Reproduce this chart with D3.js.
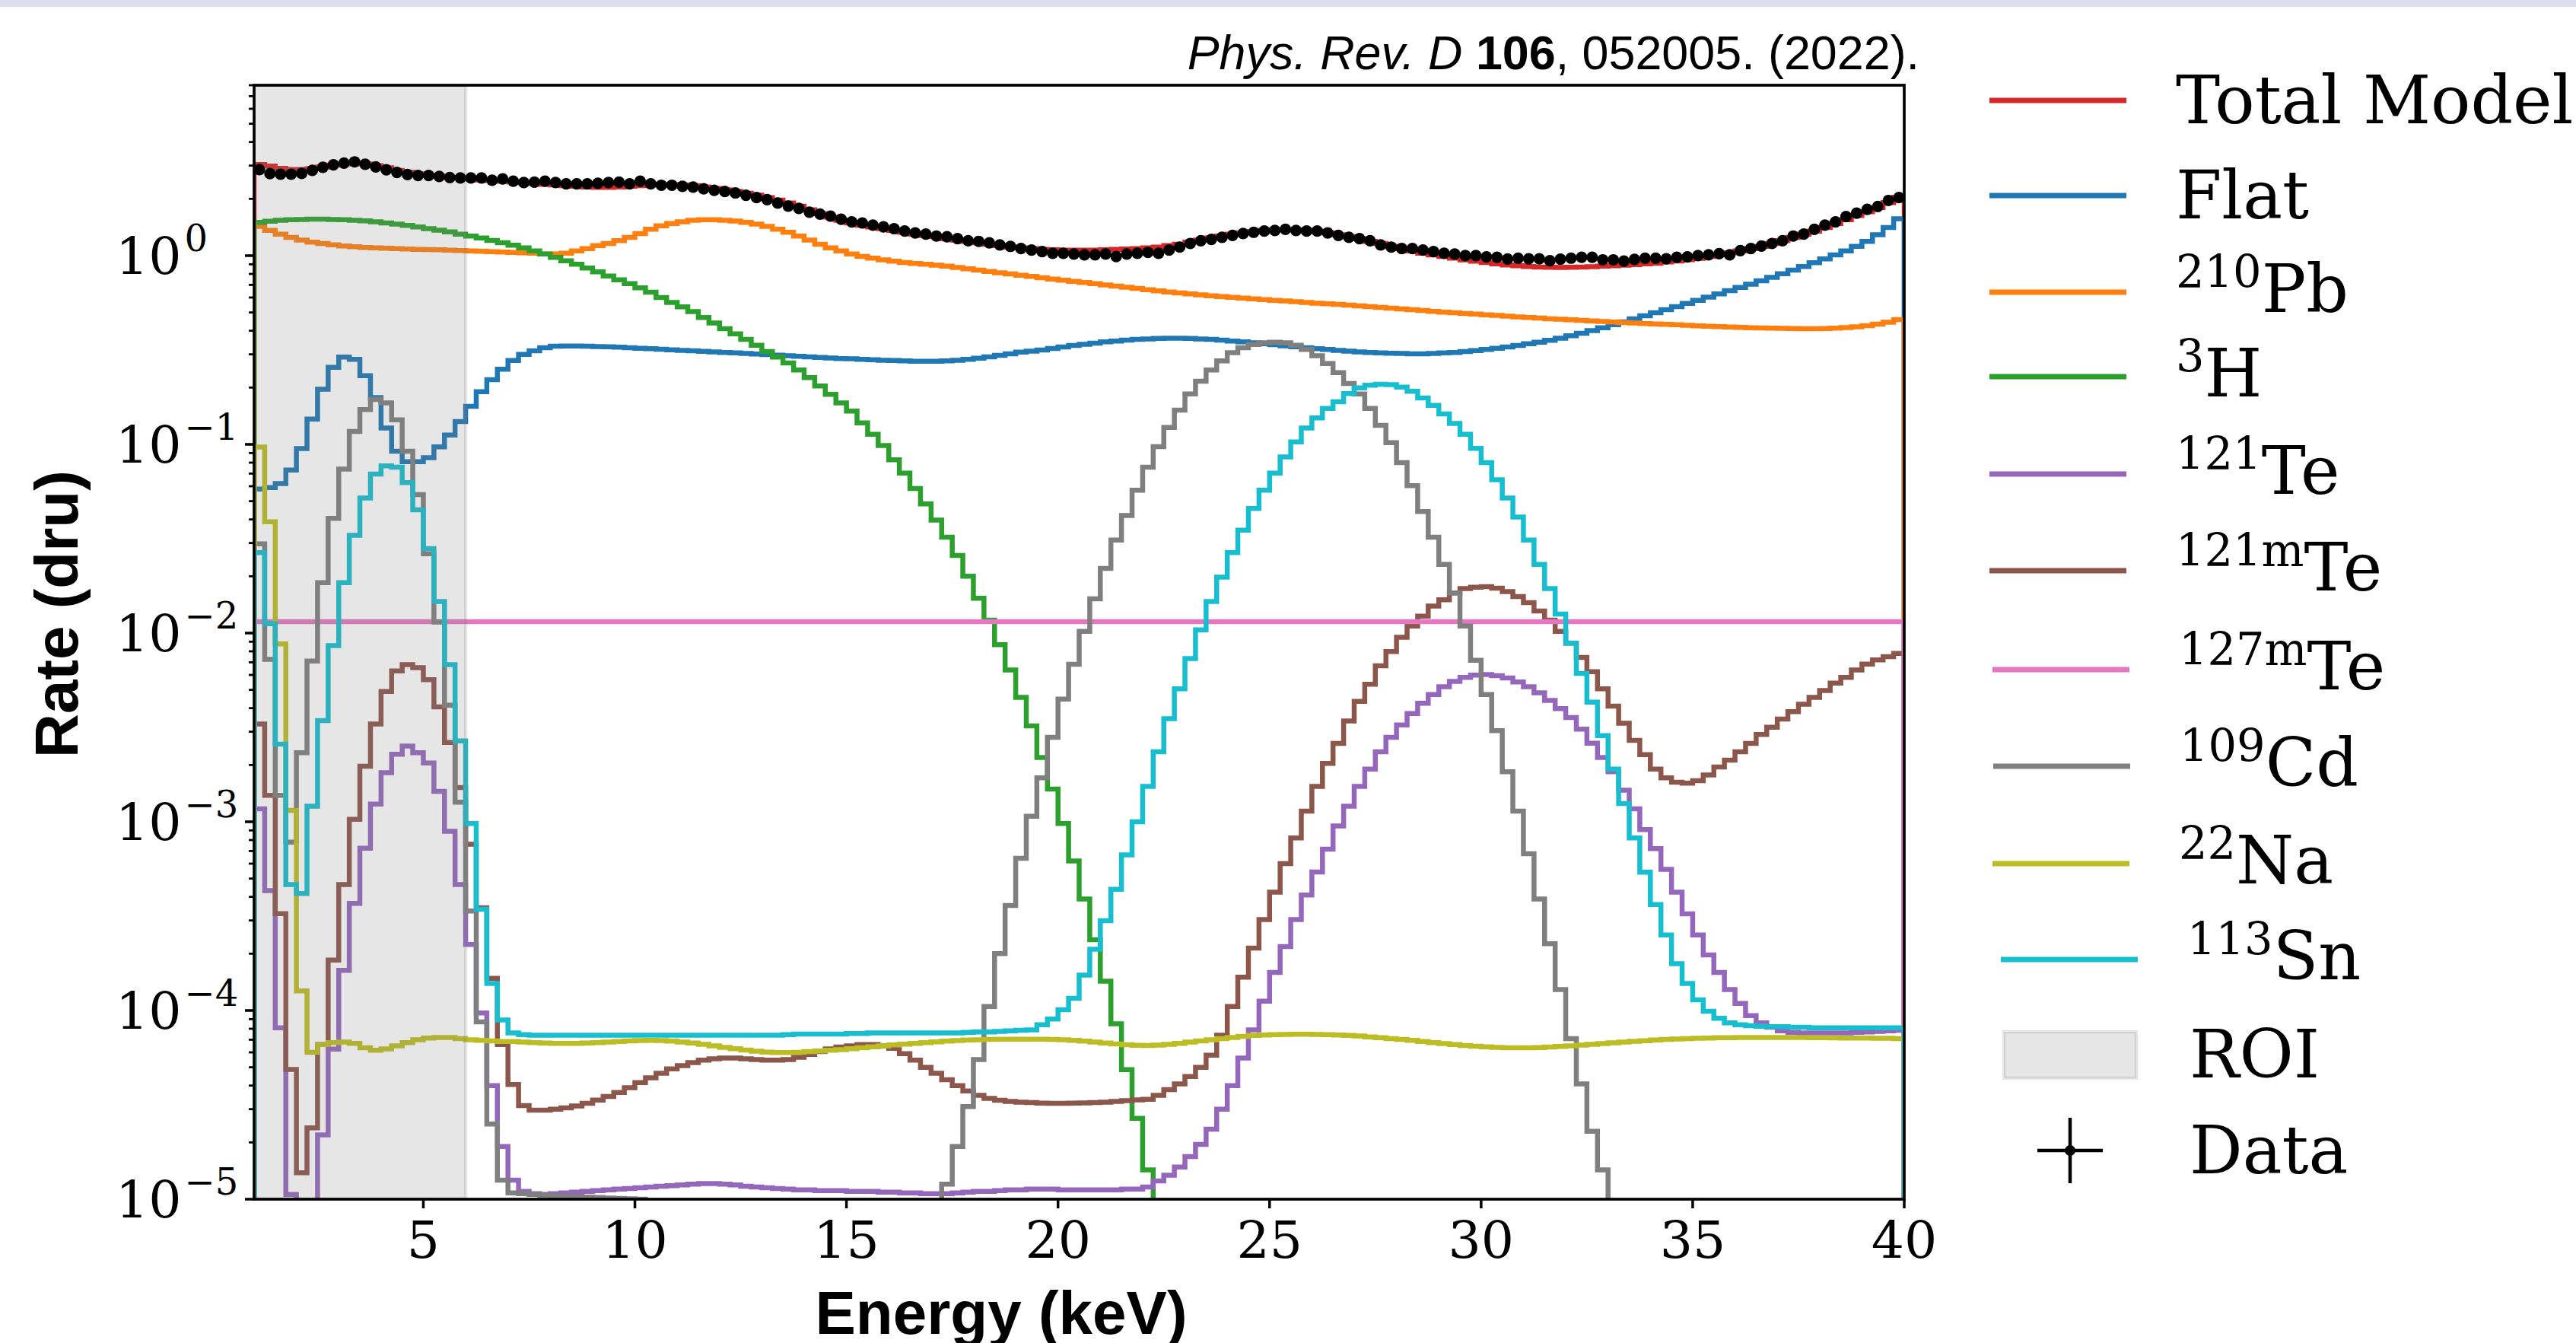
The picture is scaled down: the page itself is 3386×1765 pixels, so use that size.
<!DOCTYPE html>
<html>
<head>
<meta charset="utf-8">
<script src="https://cdn.jsdelivr.net/npm/d3@7"></script>
<style>
  body { margin: 0; background: #fff; }
  svg { display: block; }
  text { white-space: pre; }
</style>
</head>
<body>
<svg id="chart" width="3386" height="1765"></svg>
<script>
// histogram bins: 0.25 keV wide, 1 to 40 keV (156 bins)
const binStart = 1.0;
const binWidth = 0.25;

// rates in dru, one value per bin (0 = below the plotted range)
const totalModel = [
  3.04, 2.98, 2.90, 2.86, 2.86, 2.89, 2.95, 3.02, 3.06, 3.09,
  3.06, 3.00, 2.92, 2.83, 2.76, 2.71, 2.67, 2.64, 2.60, 2.57,
  2.55, 2.52, 2.50, 2.48, 2.46, 2.44, 2.41, 2.39, 2.37, 2.35,
  2.33, 2.31, 2.30, 2.30, 2.31, 2.33, 2.35, 2.37, 2.38, 2.38,
  2.37, 2.35, 2.31, 2.27, 2.23, 2.19, 2.14, 2.09, 2.03, 1.97,
  1.90, 1.83, 1.75, 1.67, 1.60, 1.54, 1.49, 1.45, 1.42, 1.39,
  1.36, 1.33, 1.30, 1.28, 1.26, 1.23, 1.21, 1.19, 1.17, 1.15,
  1.13, 1.11, 1.10, 1.09, 1.08, 1.075, 1.07, 1.07, 1.07, 1.07,
  1.075, 1.08, 1.085, 1.09, 1.10, 1.11, 1.13, 1.15, 1.18, 1.21,
  1.24, 1.27, 1.30, 1.32, 1.34, 1.36, 1.37, 1.375, 1.37, 1.36,
  1.35, 1.32, 1.29, 1.26, 1.23, 1.19, 1.16, 1.12, 1.09, 1.06,
  1.03, 1.01, 0.99, 0.97, 0.95, 0.935, 0.92, 0.905, 0.893, 0.883,
  0.875, 0.87, 0.867, 0.866, 0.867, 0.87, 0.874, 0.879, 0.885, 0.89,
  0.897, 0.904, 0.912, 0.925, 0.937, 0.952, 0.968, 0.99, 1.01, 1.035,
  1.06, 1.09, 1.12, 1.16, 1.20, 1.25, 1.30, 1.35, 1.41, 1.48,
  1.55, 1.63, 1.71, 1.80, 1.91, 2.04
];

const flat = [
  0.058, 0.059, 0.062, 0.073, 0.095, 0.136, 0.196, 0.256, 0.290, 0.282,
  0.231, 0.177, 0.122, 0.092, 0.081, 0.081, 0.085, 0.097, 0.112, 0.132,
  0.159, 0.190, 0.220, 0.250, 0.278, 0.300, 0.313, 0.325, 0.331, 0.332,
  0.332, 0.331, 0.330, 0.329, 0.327, 0.325, 0.323, 0.321, 0.319, 0.317,
  0.315, 0.313, 0.311, 0.309, 0.307, 0.305, 0.303, 0.301, 0.299, 0.297,
  0.295, 0.293, 0.291, 0.289, 0.287, 0.285, 0.284, 0.282, 0.281, 0.279,
  0.278, 0.277, 0.276, 0.276, 0.276, 0.277, 0.279, 0.282, 0.286, 0.291,
  0.296, 0.302, 0.308, 0.312, 0.316, 0.322, 0.328, 0.334, 0.339, 0.344,
  0.349, 0.353, 0.357, 0.360, 0.362, 0.364, 0.365, 0.365, 0.364, 0.362,
  0.360, 0.357, 0.353, 0.349, 0.345, 0.341, 0.337, 0.333, 0.329, 0.325,
  0.321, 0.318, 0.315, 0.312, 0.309, 0.307, 0.305, 0.304, 0.303, 0.302,
  0.302, 0.303, 0.305, 0.307, 0.310, 0.314, 0.318, 0.323, 0.328, 0.334,
  0.341, 0.348, 0.356, 0.365, 0.376, 0.388, 0.401, 0.415, 0.430, 0.446,
  0.463, 0.480, 0.498, 0.517, 0.537, 0.558, 0.580, 0.603, 0.627, 0.652,
  0.678, 0.706, 0.736, 0.768, 0.802, 0.838, 0.876, 0.917, 0.960, 1.01,
  1.06, 1.12, 1.19, 1.29, 1.41, 1.57
];

const pb210 = [
  1.43, 1.36, 1.30, 1.25, 1.21, 1.18, 1.16, 1.14, 1.125, 1.115,
  1.105, 1.10, 1.095, 1.09, 1.085, 1.08, 1.078, 1.075, 1.07, 1.065,
  1.06, 1.055, 1.05, 1.045, 1.04, 1.035, 1.03, 1.02, 1.02, 1.03,
  1.06, 1.09, 1.13, 1.16, 1.20, 1.25, 1.31, 1.38, 1.44, 1.48,
  1.51, 1.54, 1.55, 1.55, 1.54, 1.525, 1.50, 1.47, 1.43, 1.38,
  1.33, 1.27, 1.21, 1.15, 1.10, 1.06, 1.02, 0.99, 0.97, 0.95,
  0.935, 0.92, 0.91, 0.90, 0.89, 0.88, 0.866, 0.852, 0.838, 0.825,
  0.812, 0.80, 0.788, 0.776, 0.764, 0.752, 0.741, 0.731, 0.721, 0.711,
  0.70, 0.69, 0.68, 0.67, 0.66, 0.651, 0.642, 0.634, 0.627, 0.62,
  0.613, 0.607, 0.601, 0.596, 0.59, 0.585, 0.58, 0.575, 0.57, 0.565,
  0.56, 0.556, 0.552, 0.547, 0.542, 0.537, 0.532, 0.527, 0.522, 0.517,
  0.512, 0.507, 0.502, 0.498, 0.494, 0.49, 0.486, 0.482, 0.478, 0.474,
  0.47, 0.467, 0.463, 0.46, 0.457, 0.454, 0.451, 0.448, 0.445, 0.442,
  0.44, 0.437, 0.435, 0.432, 0.43, 0.428, 0.425, 0.423, 0.421, 0.419,
  0.417, 0.415, 0.414, 0.413, 0.412, 0.411, 0.41, 0.41, 0.411, 0.413,
  0.416, 0.42, 0.426, 0.434, 0.444, 0.458
];

const h3 = [
  1.50, 1.52, 1.54, 1.55, 1.555, 1.56, 1.56, 1.555, 1.55, 1.54,
  1.53, 1.51, 1.49, 1.47, 1.445, 1.42, 1.39, 1.365, 1.335, 1.30,
  1.27, 1.24, 1.205, 1.17, 1.135, 1.10, 1.06, 1.02, 0.98, 0.94,
  0.90, 0.86, 0.82, 0.78, 0.745, 0.71, 0.675, 0.64, 0.60, 0.565,
  0.535, 0.505, 0.47, 0.44, 0.41, 0.385, 0.36, 0.335, 0.31, 0.29,
  0.27, 0.248, 0.226, 0.204, 0.184, 0.166, 0.150, 0.130, 0.113, 0.0986,
  0.0828, 0.0705, 0.0583, 0.0483, 0.0397, 0.0322, 0.0258, 0.0200, 0.0153, 0.0117,
  0.00867, 0.00638, 0.00456, 0.00322, 0.00219, 0.00149, 0.00098, 0.00062, 0.00039, 0.000237,
  0.000143, 0.000085, 0.0000486, 0.0000268, 0.0000143, 0, 0, 0, 0, 0,
  0, 0, 0, 0, 0, 0, 0, 0, 0, 0,
  0, 0, 0, 0, 0, 0, 0, 0, 0, 0,
  0, 0, 0, 0, 0, 0, 0, 0, 0, 0,
  0, 0, 0, 0, 0, 0, 0, 0, 0, 0,
  0, 0, 0, 0, 0, 0, 0, 0, 0, 0,
  0, 0, 0, 0, 0, 0, 0, 0, 0, 0,
  0, 0, 0, 0, 0, 0
];

const te121 = [
  1.17e-3, 4.32e-4, 8.1e-5, 1.06e-5, 3e-6, 6e-6, 2.19e-5, 6.24e-5, 1.63e-4, 3.69e-4,
  7.24e-4, 1.24e-3, 1.82e-3, 2.28e-3, 2.52e-3, 2.32e-3, 2.05e-3, 1.45e-3, 8.9e-4, 4.65e-4,
  2.24e-4, 9.7e-5, 4.0e-5, 1.9e-5, 1.26e-5, 1.1e-5, 1.07e-5, 1.06e-5, 1.07e-5, 1.08e-5,
  1.09e-5, 1.1e-5, 1.11e-5, 1.12e-5, 1.13e-5, 1.14e-5, 1.15e-5, 1.16e-5, 1.17e-5, 1.18e-5,
  1.19e-5, 1.2e-5, 1.21e-5, 1.21e-5, 1.2e-5, 1.19e-5, 1.17e-5, 1.16e-5, 1.15e-5, 1.14e-5,
  1.13e-5, 1.12e-5, 1.12e-5, 1.11e-5, 1.11e-5, 1.11e-5, 1.1e-5, 1.1e-5, 1.1e-5, 1.09e-5,
  1.09e-5, 1.08e-5, 1.08e-5, 1.07e-5, 1.07e-5, 1.07e-5, 1.08e-5, 1.09e-5, 1.1e-5, 1.1e-5,
  1.11e-5, 1.12e-5, 1.12e-5, 1.13e-5, 1.13e-5, 1.13e-5, 1.12e-5, 1.12e-5, 1.12e-5, 1.12e-5,
  1.12e-5, 1.12e-5, 1.13e-5, 1.13e-5, 1.16e-5, 1.25e-5, 1.34e-5, 1.48e-5, 1.68e-5, 1.95e-5,
  2.35e-5, 3.0e-5, 4.0e-5, 5.6e-5, 7.9e-5, 1.12e-4, 1.59e-4, 2.18e-4, 3.03e-4, 4.09e-4,
  5.42e-4, 7.16e-4, 9.5e-4, 1.21e-3, 1.54e-3, 1.9e-3, 2.35e-3, 2.8e-3, 3.26e-3, 3.75e-3,
  4.25e-3, 4.72e-3, 5.2e-3, 5.55e-3, 5.82e-3, 5.98e-3, 6.03e-3, 5.95e-3, 5.78e-3, 5.5e-3,
  5.2e-3, 4.82e-3, 4.4e-3, 3.98e-3, 3.57e-3, 3.1e-3, 2.61e-3, 2.19e-3, 1.84e-3, 1.47e-3,
  1.17e-3, 9.1e-4, 7.2e-4, 5.6e-4, 4.24e-4, 3.25e-4, 2.51e-4, 1.97e-4, 1.59e-4, 1.29e-4,
  1.09e-4, 9.4e-5, 8.6e-5, 8.15e-5, 7.8e-5, 7.65e-5, 7.6e-5, 7.6e-5, 7.6e-5, 7.6e-5,
  7.6e-5, 7.65e-5, 7.7e-5, 7.75e-5, 7.8e-5, 7.85e-5
];

const te121m = [
  3.3e-3, 1.38e-3, 3.26e-4, 4.87e-5, 1.38e-5, 2.39e-5, 6.6e-5, 1.85e-4, 4.65e-4, 1.03e-3,
  1.97e-3, 3.3e-3, 4.9e-3, 6.3e-3, 6.8e-3, 6.55e-3, 5.66e-3, 4.06e-3, 2.63e-3, 1.52e-3,
  7.6e-4, 3.5e-4, 1.48e-4, 6.6e-5, 4.05e-5, 3.13e-5, 2.96e-5, 2.96e-5, 3.0e-5, 3.05e-5,
  3.12e-5, 3.22e-5, 3.35e-5, 3.5e-5, 3.68e-5, 3.9e-5, 4.15e-5, 4.4e-5, 4.65e-5, 4.9e-5,
  5.1e-5, 5.3e-5, 5.45e-5, 5.55e-5, 5.6e-5, 5.6e-5, 5.55e-5, 5.5e-5, 5.45e-5, 5.45e-5,
  5.5e-5, 5.65e-5, 5.85e-5, 6.05e-5, 6.25e-5, 6.4e-5, 6.5e-5, 6.6e-5, 6.6e-5, 6.5e-5,
  6.3e-5, 5.9e-5, 5.45e-5, 5.0e-5, 4.65e-5, 4.3e-5, 4.0e-5, 3.75e-5, 3.55e-5, 3.42e-5,
  3.34e-5, 3.3e-5, 3.27e-5, 3.25e-5, 3.23e-5, 3.22e-5, 3.22e-5, 3.23e-5, 3.24e-5, 3.25e-5,
  3.27e-5, 3.3e-5, 3.33e-5, 3.36e-5, 3.38e-5, 3.55e-5, 3.81e-5, 4.08e-5, 4.47e-5, 5.0e-5,
  5.8e-5, 7.4e-5, 1.05e-4, 1.5e-4, 2.14e-4, 3.03e-4, 4.24e-4, 6.0e-4, 8.2e-4, 1.14e-3,
  1.54e-3, 2.04e-3, 2.6e-3, 3.42e-3, 4.35e-3, 5.35e-3, 6.7e-3, 7.98e-3, 9.5e-3, 0.0109,
  0.0123, 0.0139, 0.0150, 0.0163, 0.0172, 0.0175, 0.0176, 0.0173, 0.0166, 0.0156,
  0.0145, 0.0131, 0.0117, 0.0102, 0.00885, 0.00743, 0.00624, 0.00507, 0.0041, 0.00333,
  0.0027, 0.00227, 0.0019, 0.00171, 0.00162, 0.0016, 0.00165, 0.00177, 0.00195, 0.00212,
  0.00235, 0.0026, 0.0029, 0.00317, 0.0035, 0.00383, 0.0042, 0.00456, 0.00496, 0.00543,
  0.00582, 0.00638, 0.00685, 0.0072, 0.0075, 0.0078
];

// flat line, one level across the whole range
const te127m = 0.0115;

const cd109 = [
  0.0297, 0.00726, 0.00138, 0.00078, 0.00232, 0.0071, 0.0185, 0.0405, 0.074, 0.117,
  0.153, 0.173, 0.166, 0.135, 0.092, 0.0542, 0.0263, 0.01145, 0.00415, 0.00127,
  3.37e-4, 8.7e-5, 2.5e-5, 1.26e-5, 1.08e-5, 1.07e-5, 1.06e-5, 1.05e-5, 1.04e-5, 1.035e-5,
  1.03e-5, 1.025e-5, 1.02e-5, 1.015e-5, 1.01e-5, 1.005e-5, 1.0e-5, 0, 0, 0,
  0, 0, 0, 0, 0, 0, 0, 0, 0, 0,
  0, 0, 0, 0, 0, 0, 0, 0, 0, 0,
  0, 0, 0, 0, 0, 1.2e-5, 1.9e-5, 3.1e-5, 5.5e-5, 1.05e-4,
  2.0e-4, 3.6e-4, 6.4e-4, 1.07e-3, 1.71e-3, 2.8e-3, 4.47e-3, 6.84e-3, 0.0102, 0.0152,
  0.022, 0.0311, 0.042, 0.0572, 0.0756, 0.0973, 0.123, 0.152, 0.185, 0.216,
  0.248, 0.277, 0.306, 0.325, 0.338, 0.345, 0.348, 0.345, 0.335, 0.318,
  0.295, 0.268, 0.24, 0.21, 0.185, 0.155, 0.126, 0.102, 0.08, 0.0604,
  0.0441, 0.0322, 0.0231, 0.0163, 0.0109, 0.00718, 0.00472, 0.00304, 0.00184, 0.00114,
  6.77e-4, 3.9e-4, 2.26e-4, 1.29e-4, 7.1e-5, 4.08e-5, 2.29e-5, 1.43e-5, 0, 0,
  0, 0, 0, 0, 0, 0, 0, 0, 0, 0,
  0, 0, 0, 0, 0, 0, 0, 0, 0, 0,
  0, 0, 0, 0, 0, 0
];

const na22 = [
  0.0968, 0.0389, 0.00875, 0.00115, 1.27e-4, 6.0e-5, 6.6e-5, 6.75e-5, 6.8e-5, 6.7e-5,
  6.35e-5, 6.15e-5, 6.25e-5, 6.5e-5, 6.75e-5, 7.0e-5, 7.15e-5, 7.2e-5, 7.2e-5, 7.1e-5,
  7.0e-5, 6.95e-5, 6.9e-5, 6.85e-5, 6.85e-5, 6.8e-5, 6.75e-5, 6.72e-5, 6.7e-5, 6.7e-5,
  6.7e-5, 6.72e-5, 6.75e-5, 6.8e-5, 6.85e-5, 6.9e-5, 6.93e-5, 6.95e-5, 6.93e-5, 6.88e-5,
  6.8e-5, 6.72e-5, 6.62e-5, 6.5e-5, 6.38e-5, 6.27e-5, 6.17e-5, 6.08e-5, 6.02e-5, 5.98e-5,
  5.98e-5, 6.0e-5, 6.05e-5, 6.1e-5, 6.15e-5, 6.2e-5, 6.27e-5, 6.35e-5, 6.42e-5, 6.5e-5,
  6.57e-5, 6.63e-5, 6.7e-5, 6.76e-5, 6.82e-5, 6.88e-5, 6.93e-5, 6.97e-5, 7.0e-5, 7.02e-5,
  7.04e-5, 7.05e-5, 7.05e-5, 7.05e-5, 7.04e-5, 7.02e-5, 7.0e-5, 6.95e-5, 6.88e-5, 6.8e-5,
  6.72e-5, 6.65e-5, 6.58e-5, 6.54e-5, 6.52e-5, 6.55e-5, 6.62e-5, 6.7e-5, 6.8e-5, 6.9e-5,
  7.0e-5, 7.1e-5, 7.2e-5, 7.3e-5, 7.38e-5, 7.42e-5, 7.45e-5, 7.47e-5, 7.48e-5, 7.48e-5,
  7.47e-5, 7.45e-5, 7.42e-5, 7.38e-5, 7.32e-5, 7.25e-5, 7.18e-5, 7.1e-5, 7.02e-5, 6.94e-5,
  6.85e-5, 6.76e-5, 6.68e-5, 6.6e-5, 6.53e-5, 6.47e-5, 6.42e-5, 6.38e-5, 6.35e-5, 6.34e-5,
  6.34e-5, 6.36e-5, 6.4e-5, 6.45e-5, 6.5e-5, 6.56e-5, 6.62e-5, 6.68e-5, 6.74e-5, 6.8e-5,
  6.86e-5, 6.92e-5, 6.97e-5, 7.02e-5, 7.06e-5, 7.1e-5, 7.13e-5, 7.15e-5, 7.17e-5, 7.18e-5,
  7.19e-5, 7.2e-5, 7.2e-5, 7.2e-5, 7.2e-5, 7.2e-5, 7.19e-5, 7.18e-5, 7.17e-5, 7.16e-5,
  7.15e-5, 7.15e-5, 7.14e-5, 7.13e-5, 7.12e-5, 7.1e-5
];

const sn113 = [
  0.0267, 0.0112, 0.00258, 4.65e-4, 4.17e-4, 0.00121, 0.00344, 0.00857, 0.0185, 0.033,
  0.052, 0.0696, 0.077, 0.0757, 0.0627, 0.045, 0.028, 0.0147, 0.0068, 0.00268,
  9.8e-4, 3.44e-4, 1.39e-4, 8.9e-5, 7.6e-5, 7.45e-5, 7.4e-5, 7.4e-5, 7.4e-5, 7.4e-5,
  7.4e-5, 7.4e-5, 7.4e-5, 7.4e-5, 7.4e-5, 7.4e-5, 7.4e-5, 7.4e-5, 7.4e-5, 7.4e-5,
  7.4e-5, 7.4e-5, 7.4e-5, 7.4e-5, 7.4e-5, 7.4e-5, 7.4e-5, 7.4e-5, 7.4e-5, 7.4e-5,
  7.45e-5, 7.5e-5, 7.5e-5, 7.5e-5, 7.5e-5, 7.5e-5, 7.55e-5, 7.55e-5, 7.6e-5, 7.6e-5,
  7.6e-5, 7.6e-5, 7.6e-5, 7.6e-5, 7.6e-5, 7.6e-5, 7.6e-5, 7.65e-5, 7.7e-5, 7.7e-5,
  7.75e-5, 7.8e-5, 7.85e-5, 7.9e-5, 8.4e-5, 9.0e-5, 1.01e-4, 1.16e-4, 1.54e-4, 2.11e-4,
  2.99e-4, 4.39e-4, 6.68e-4, 1.0e-3, 1.54e-3, 2.35e-3, 3.52e-3, 5.06e-3, 7.33e-3, 0.0104,
  0.0147, 0.0198, 0.0267, 0.0351, 0.0457, 0.0572, 0.0705, 0.0857, 0.103, 0.122,
  0.138, 0.155, 0.168, 0.186, 0.199, 0.206, 0.208, 0.207, 0.201, 0.191,
  0.176, 0.161, 0.145, 0.129, 0.113, 0.0953, 0.08, 0.0649, 0.0519, 0.0412,
  0.0311, 0.0231, 0.0172, 0.0126, 0.00885, 0.00611, 0.00431, 0.00286, 0.0019, 0.00125,
  8.2e-4, 5.4e-4, 3.64e-4, 2.51e-4, 1.77e-4, 1.39e-4, 1.14e-4, 9.9e-5, 9.1e-5, 8.6e-5,
  8.4e-5, 8.3e-5, 8.25e-5, 8.2e-5, 8.2e-5, 8.15e-5, 8.15e-5, 8.1e-5, 8.1e-5, 8.1e-5,
  8.1e-5, 8.1e-5, 8.1e-5, 8.1e-5, 8.1e-5, 8.1e-5
];

// measured data, one point per bin centre
const dataRate = [
  2.86, 2.72, 2.70, 2.70, 2.73, 2.83, 2.94, 3.03, 3.09, 3.14,
  3.05, 2.95, 2.85, 2.76, 2.69, 2.66, 2.66, 2.63, 2.59, 2.58,
  2.58, 2.58, 2.51, 2.55, 2.48, 2.44, 2.45, 2.48, 2.44, 2.40,
  2.40, 2.40, 2.42, 2.44, 2.45, 2.40, 2.48, 2.40, 2.36, 2.36,
  2.33, 2.31, 2.26, 2.22, 2.19, 2.15, 2.09, 2.03, 1.98, 1.90,
  1.83, 1.78, 1.70, 1.66, 1.62, 1.56, 1.51, 1.49, 1.45, 1.42,
  1.39, 1.35, 1.32, 1.30, 1.27, 1.26, 1.23, 1.20, 1.19, 1.17,
  1.14, 1.12, 1.09, 1.07, 1.05, 1.03, 1.03, 1.02, 1.01, 1.01,
  1.02, 0.99, 1.02, 1.03, 1.04, 1.03, 1.07, 1.11, 1.16, 1.20,
  1.22, 1.25, 1.28, 1.31, 1.33, 1.35, 1.36, 1.38, 1.36, 1.35,
  1.35, 1.32, 1.28, 1.25, 1.23, 1.20, 1.14, 1.11, 1.09, 1.09,
  1.07, 1.05, 1.03, 1.02, 1.00, 1.00, 0.985, 0.98, 0.96, 0.97,
  0.963, 0.963, 0.94, 0.958, 0.97, 0.98, 0.98, 0.95, 0.95, 0.935,
  0.955, 0.97, 0.97, 0.963, 0.98, 0.985, 1.00, 1.01, 1.025, 1.01,
  1.064, 1.09, 1.125, 1.16, 1.20, 1.27, 1.30, 1.38, 1.45, 1.51,
  1.61, 1.68, 1.76, 1.82, 1.96, 2.03
];

const roiRange = [1, 6];
const xTicks = [5, 10, 15, 20, 25, 30, 35, 40];
const yTickExponents = [-5, -4, -3, -2, -1, 0];

// ---- layout ----
const plot = { left: 334, right: 2503, top: 112, bottom: 1576 };
const floorRate = 1e-7;

const x = d3.scaleLinear().domain([1, 40]).range([plot.left, plot.right]);
const y = d3.scaleLog().domain([1e-5, 8.0]).range([plot.bottom, plot.top]);

const binEdge = i => binStart + i * binWidth;

const series = [
  { values: totalModel, color: '#d62728', sup: '', name: 'Total Model' },
  { values: flat, color: '#1f77b4', sup: '', name: 'Flat' },
  { values: pb210, color: '#ff7f0e', sup: '210', name: 'Pb' },
  { values: h3, color: '#2ca02c', sup: '3', name: 'H' },
  { values: te121, color: '#9467bd', sup: '121', name: 'Te' },
  { values: te121m, color: '#8c564b', sup: '121m', name: 'Te' },
  { level: te127m, color: '#e377c2', sup: '127m', name: 'Te' },
  { values: cd109, color: '#7f7f7f', sup: '109', name: 'Cd' },
  { values: na22, color: '#bcbd22', sup: '22', name: 'Na' },
  { values: sn113, color: '#17becf', sup: '113', name: 'Sn' }
];

const svg = d3.select('#chart');

// thin lavender strip at the very top of the page
svg.append('rect').attr('x', 0).attr('y', 0).attr('width', 3386).attr('height', 9)
  .attr('fill', '#dddbf0');

svg.append('defs').append('clipPath').attr('id', 'plot-clip')
  .append('rect')
  .attr('x', plot.left).attr('y', plot.top)
  .attr('width', plot.right - plot.left).attr('height', plot.bottom - plot.top);

const plotArea = svg.append('g').attr('clip-path', 'url(#plot-clip)');

const stepLine = d3.line()
  .curve(d3.curveStepAfter)
  .x(d => x(d[0]))
  .y(d => y(Math.max(d[1], floorRate)));

function stepPoints(values) {
  const pts = [[binEdge(0), floorRate]];
  values.forEach((v, i) => pts.push([binEdge(i), v]));
  pts.push([binEdge(values.length), values[values.length - 1]]);
  pts.push([binEdge(values.length), floorRate]);
  return pts;
}

series.forEach(s => {
  let d;
  if (s.values) {
    d = stepLine(stepPoints(s.values));
  } else {
    const [x0, x1] = x.domain();
    d = stepLine([[x0, floorRate], [x0, s.level], [x1, s.level], [x1, floorRate]]);
  }
  plotArea.append('path')
    .attr('d', d)
    .attr('fill', 'none')
    .attr('stroke', s.color)
    .attr('stroke-width', 6.5)
    .attr('stroke-linejoin', 'miter');
});

// region of interest shading (drawn over the model lines)
plotArea.append('rect')
  .attr('x', x(roiRange[0])).attr('y', plot.top)
  .attr('width', x(roiRange[1]) - x(roiRange[0]))
  .attr('height', plot.bottom - plot.top)
  .attr('fill', '#808080').attr('fill-opacity', 0.2)
  .attr('stroke', '#808080').attr('stroke-opacity', 0.2).attr('stroke-width', 4.5);

// data points
plotArea.selectAll('circle.data')
  .data(dataRate)
  .enter()
  .append('circle')
  .attr('class', 'data')
  .attr('cx', (d, i) => x(binEdge(i) + binWidth / 2))
  .attr('cy', d => y(d))
  .attr('r', 7.6)
  .attr('fill', '#000');

// ---- axes ----
const axes = svg.append('g');
axes.append('rect')
  .attr('x', plot.left).attr('y', plot.top)
  .attr('width', plot.right - plot.left).attr('height', plot.bottom - plot.top)
  .attr('fill', 'none').attr('stroke', '#000').attr('stroke-width', 3.7);

xTicks.forEach(t => {
  axes.append('line')
    .attr('x1', x(t)).attr('x2', x(t))
    .attr('y1', plot.bottom).attr('y2', plot.bottom + 12)
    .attr('stroke', '#000').attr('stroke-width', 3.5);
  axes.append('text')
    .attr('x', x(t)).attr('y', 1653)
    .attr('text-anchor', 'middle')
    .attr('font-family', 'DejaVu Serif').attr('font-size', 68)
    .text(t);
});

// minor ticks on the log axis
const [yMin, yMax] = y.domain();
for (let e = -5; e <= 0; e++) {
  for (let m = 2; m <= 9; m++) {
    const v = m * Math.pow(10, e);
    if (v > yMax) continue;
    axes.append('line')
      .attr('x1', plot.left - 7).attr('x2', plot.left)
      .attr('y1', y(v)).attr('y2', y(v))
      .attr('stroke', '#000').attr('stroke-width', 2.8);
  }
}

// decade labels: the "10" parts line up in one column
yTickExponents.forEach(e => {
  const v = Math.pow(10, e);
  axes.append('line')
    .attr('x1', plot.left - 12).attr('x2', plot.left)
    .attr('y1', y(v)).attr('y2', y(v))
    .attr('stroke', '#000').attr('stroke-width', 3.5);
  const t = axes.append('text')
    .attr('x', 152).attr('y', y(v) + 24)
    .attr('text-anchor', 'start')
    .attr('font-family', 'DejaVu Serif').attr('font-size', 68);
  t.append('tspan').text('10');
  t.append('tspan').attr('font-size', 48).attr('dx', 4).attr('dy', -30)
    .text(e < 0 ? '\u2212' + Math.abs(e) : String(e));
});

axes.append('text')
  .attr('x', 1316).attr('y', 1753)
  .attr('text-anchor', 'middle')
  .attr('font-family', 'Liberation Sans').attr('font-weight', 'bold').attr('font-size', 80)
  .text('Energy (keV)');

axes.append('text')
  .attr('transform', 'translate(102,807) rotate(-90)')
  .attr('text-anchor', 'middle')
  .attr('font-family', 'Liberation Sans').attr('font-weight', 'bold').attr('font-size', 80)
  .text('Rate (dru)');

// citation above the plot
const cite = svg.append('text')
  .attr('x', 2523).attr('y', 91)
  .attr('text-anchor', 'end')
  .attr('font-family', 'Liberation Sans').attr('font-size', 62.8);
cite.append('tspan').attr('font-style', 'italic').text('Phys. Rev. D ');
cite.append('tspan').attr('font-weight', 'bold').text('106');
cite.append('tspan').text(', 052005. (2022).');

// ---- legend ----
const legendRowY = [132, 257, 384, 495, 623, 750, 880, 1007, 1135, 1261, 1386, 1512];
const legendShiftX = [0, 0, 0, 0, 0, 0, 4, 5, 4, 15, 16, 16];
const legend = svg.append('g');

function legendLabel(i, sup, name, textX, baseOffset) {
  const t = legend.append('text')
    .attr('x', textX + legendShiftX[i])
    .attr('y', legendRowY[i] + baseOffset)
    .attr('font-family', 'DejaVu Serif').attr('font-size', 87);
  if (sup) {
    t.append('tspan').attr('font-size', 59).attr('dy', -32).text(sup);
    t.append('tspan').attr('dy', 32).text(name);
  } else {
    t.text(name);
  }
}

series.forEach((s, i) => {
  legend.append('line')
    .attr('x1', 2615 + legendShiftX[i]).attr('x2', 2795 + legendShiftX[i])
    .attr('y1', legendRowY[i]).attr('y2', legendRowY[i])
    .attr('stroke', s.color).attr('stroke-width', 7);
  legendLabel(i, s.sup, s.name, 2860, s.sup ? 26 : 30);
});

// ROI patch
legend.append('rect')
  .attr('x', 2634 + legendShiftX[10] - 16).attr('y', legendRowY[10] - 30)
  .attr('width', 174).attr('height', 61)
  .attr('fill', '#808080').attr('fill-opacity', 0.2)
  .attr('stroke', '#808080').attr('stroke-opacity', 0.2).attr('stroke-width', 4.5);
legendLabel(10, '', 'ROI', 2862, 30);

// data marker (errorbar cross with dot)
const cx = 2705 + legendShiftX[11];
const cy = legendRowY[11];
legend.append('line').attr('x1', cx - 43).attr('x2', cx + 43).attr('y1', cy).attr('y2', cy)
  .attr('stroke', '#000').attr('stroke-width', 4.5);
legend.append('line').attr('x1', cx).attr('x2', cx).attr('y1', cy - 43).attr('y2', cy + 43)
  .attr('stroke', '#000').attr('stroke-width', 4.5);
legend.append('circle').attr('cx', cx).attr('cy', cy).attr('r', 7).attr('fill', '#000');
legendLabel(11, '', 'Data', 2862, 30);
</script>
</body>
</html>
